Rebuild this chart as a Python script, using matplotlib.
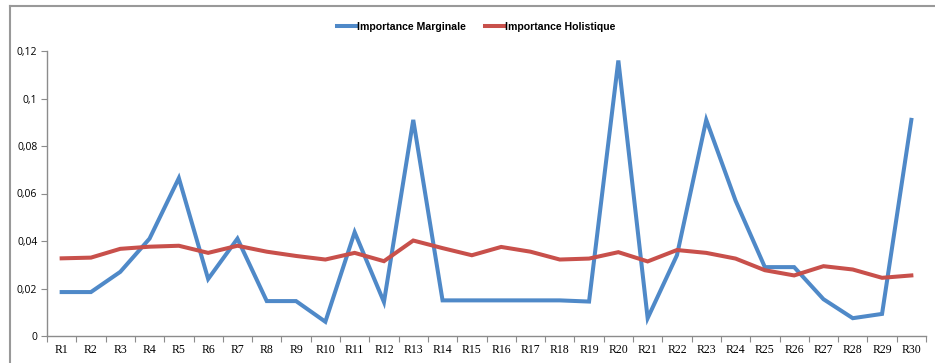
import matplotlib.pyplot as plt
from matplotlib.lines import Line2D

# données
labels = ['R%d' % i for i in range(1, 31)]
marginale = [0.0185, 0.0185, 0.027, 0.041, 0.0665, 0.024, 0.041, 0.0147, 0.0147, 0.006,
             0.0437, 0.0143, 0.091, 0.015, 0.015, 0.015, 0.015, 0.015, 0.0145, 0.116,
             0.0075, 0.034, 0.091, 0.057, 0.029, 0.029, 0.0155, 0.0075, 0.0093, 0.091]
holistique = [0.0327, 0.033, 0.0367, 0.0376, 0.038, 0.035, 0.038, 0.0355, 0.0337, 0.0322,
              0.035, 0.0315, 0.0402, 0.037, 0.034, 0.0375, 0.0355, 0.0322, 0.0326, 0.0353,
              0.0314, 0.0362, 0.035, 0.0326, 0.0277, 0.0255, 0.0294, 0.028, 0.0245, 0.0255]
yticks = [0, 0.02, 0.04, 0.06, 0.08, 0.1, 0.12]
ytick_labels = ['0', '0,02', '0,04', '0,06', '0,08', '0,1', '0,12']

c_blue = '#4F89C8'
c_red = '#C8504B'
c_axis = '#8C8C8C'

fig = plt.figure(figsize=(9.35, 3.63), dpi=100)
ax = fig.add_axes([47/935, 27/363, 879/935, 285/363])

x = list(range(len(labels)))
ax.plot(x, marginale, color=c_blue, lw=2.9, solid_joinstyle='miter')
ax.plot(x, holistique, color=c_red, lw=2.9, solid_joinstyle='miter')

ax.set_xlim(-0.5, len(labels) - 0.5)
ax.set_ylim(0, 0.12)

ax.set_xticks([i - 0.5 for i in range(len(labels) + 1)])
ax.set_xticklabels([])
ax.set_xticks(x, minor=True)
ax.set_xticklabels(labels, minor=True, family='Liberation Serif', fontsize=8.5)
ax.tick_params(axis='x', which='major', length=4, color=c_axis, direction='out')
ax.tick_params(axis='x', which='minor', length=0, pad=6)

ax.set_yticks(yticks)
ax.set_yticklabels(ytick_labels, family='Open Sans', fontsize=7.5)
ax.tick_params(axis='y', length=4, color=c_axis, direction='out', pad=3)

for s in ['top', 'right']:
    ax.spines[s].set_visible(False)
for s in ['left', 'bottom']:
    ax.spines[s].set_color(c_axis)
    ax.spines[s].set_linewidth(1.0)

# cadre extérieur du graphique
fig.add_artist(Line2D([10/935, 1], [1 - 6/363, 1 - 6/363], color='#999999', lw=1.5))
fig.add_artist(Line2D([10/935, 10/935], [0, 1 - 6/363], color='#999999', lw=1.5))

handles = [Line2D([], [], color=c_blue, lw=2.9), Line2D([], [], color=c_red, lw=2.9)]
leg = fig.legend(handles, ['Importance Marginale', 'Importance Holistique'],
                 loc='center', bbox_to_anchor=(476/935, 1 - 27/363), ncol=2,
                 frameon=False, handlelength=1.9, handletextpad=0.0, columnspacing=1.8,
                 prop={'family': 'Liberation Sans', 'weight': 'bold', 'size': 7.6})

plt.savefig('out.png', dpi=100)
